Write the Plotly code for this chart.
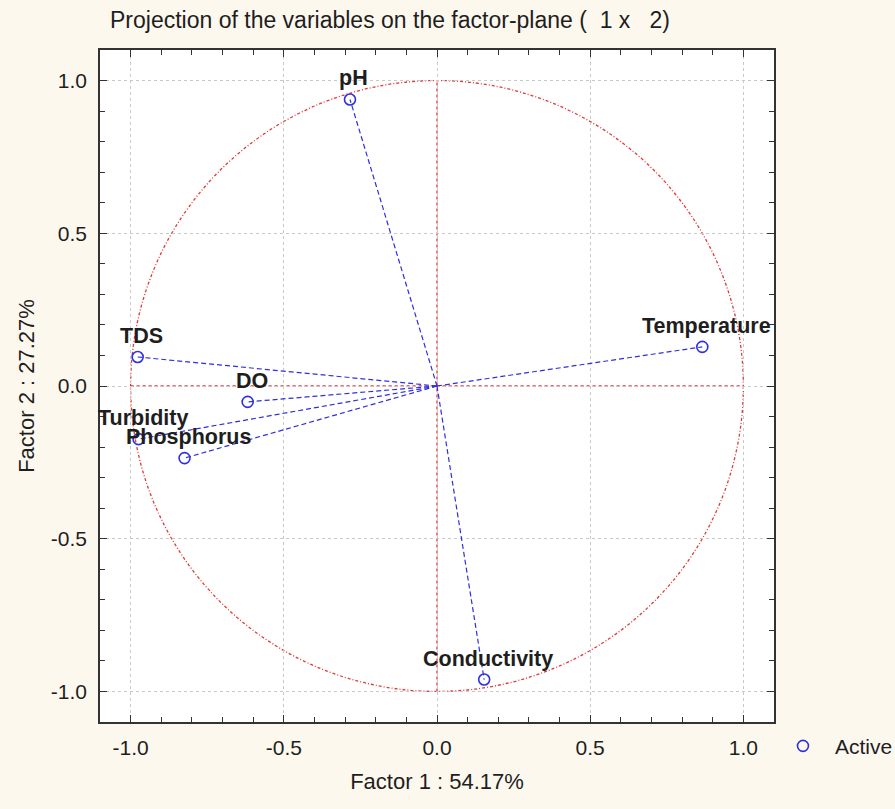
import plotly.graph_objects as go

variables = ["pH", "TDS", "DO", "Turbidity", "Phosphorus", "Temperature", "Conductivity"]
factor1 = [-0.284, -0.977, -0.618, -0.974, -0.824, 0.866, 0.154]
factor2 = [0.938, 0.095, -0.052, -0.174, -0.236, 0.128, -0.961]
x_ticks = [-1.0, -0.5, 0.0, 0.5, 1.0]
y_ticks = [-1.0, -0.5, 0.0, 0.5, 1.0]
tick_text = ["-1.0", "-0.5", "0.0", "0.5", "1.0"]

BLUE = "#2f2fe0"
RED = "#e03a3a"
FONT = "Liberation Sans, Arial, sans-serif"
TXT = "#1e1e1e"
BG = "#fdf8ee"

fig = go.Figure()

# lines from origin
lx, ly = [], []
for a, b in zip(factor1, factor2):
    lx += [0, a, None]
    ly += [0, b, None]
fig.add_trace(go.Scatter(x=lx, y=ly, mode="lines",
                         line=dict(color=BLUE, width=1.2, dash="5px,3px"),
                         showlegend=False, hoverinfo="skip"))

fig.add_trace(go.Scatter(x=factor1, y=factor2, mode="markers", name="Active",
                         marker=dict(symbol="circle-open", size=11, color=BLUE,
                                     line=dict(width=1.6, color=BLUE))))

# unit circle and cross
fig.add_shape(type="circle", xref="x", yref="y", x0=-1, x1=1, y0=-1, y1=1,
              line=dict(color=RED, width=1.3, dash="3px,2px,1px,2px"), layer="below")
fig.add_shape(type="line", xref="x", yref="y", x0=0, x1=0, y0=-1, y1=1,
              line=dict(color=RED, width=1.3, dash="dot"), layer="below")
fig.add_shape(type="line", xref="x", yref="y", x0=-1, x1=1, y0=0, y1=0,
              line=dict(color=RED, width=1.3, dash="dot"), layer="below")

for name, a, b in zip(variables, factor1, factor2):
    fig.add_annotation(x=a, y=b, text="<b>" + name + "</b>", showarrow=False, xshift=4, yshift=21,
                       font=dict(family=FONT, size=21.5, color=TXT))

axis_common = dict(
    range=[-1.1, 1.1], ticktext=tick_text,
    ticks="inside", ticklen=7, tickcolor="#333333", mirror="ticks",
    showline=True, linecolor="#333333", linewidth=1.6,
    showgrid=True, gridcolor="#c8c8c8", griddash="dot", gridwidth=1,
    zeroline=False,
    minor=dict(dtick=0.1, ticks="inside", ticklen=5, tickcolor="#333333", showgrid=False),
    tickfont=dict(family=FONT, size=21, color=TXT),
)

fig.update_xaxes(**axis_common, tickvals=x_ticks, ticklabelstandoff=6,
                 title=dict(text="Factor 1 : 54.17%", font=dict(family=FONT, size=22, color=TXT), standoff=16))
fig.update_yaxes(**axis_common, tickvals=y_ticks, ticklabelstandoff=7,
                 title=dict(text="Factor 2 : 27.27%", font=dict(family=FONT, size=22, color=TXT), standoff=10))

fig.update_layout(
    width=895, height=809,
    margin=dict(l=100, r=121, t=50, b=87, autoexpand=False),
    paper_bgcolor=BG, plot_bgcolor="#ffffff",
    title=dict(text="Projection of the variables on the factor-plane (\u00a0\u00a01 x\u00a0\u00a0 2)",
               x=110/895, xanchor="left", y=1 - 20/809, yanchor="middle",
               font=dict(family=FONT, size=23, color=TXT)),
    legend=dict(x=0.9955, xanchor="left", y=-0.036, yanchor="middle",
                bgcolor="rgba(0,0,0,0)", font=dict(family=FONT, size=21, color=TXT),
                itemwidth=54),
    showlegend=True,
)

fig.write_html("out.html", config={"displayModeBar": False},
               post_script="document.body.style.margin='0';document.body.style.background='" + BG + "';document.body.style.overflow='hidden';")
